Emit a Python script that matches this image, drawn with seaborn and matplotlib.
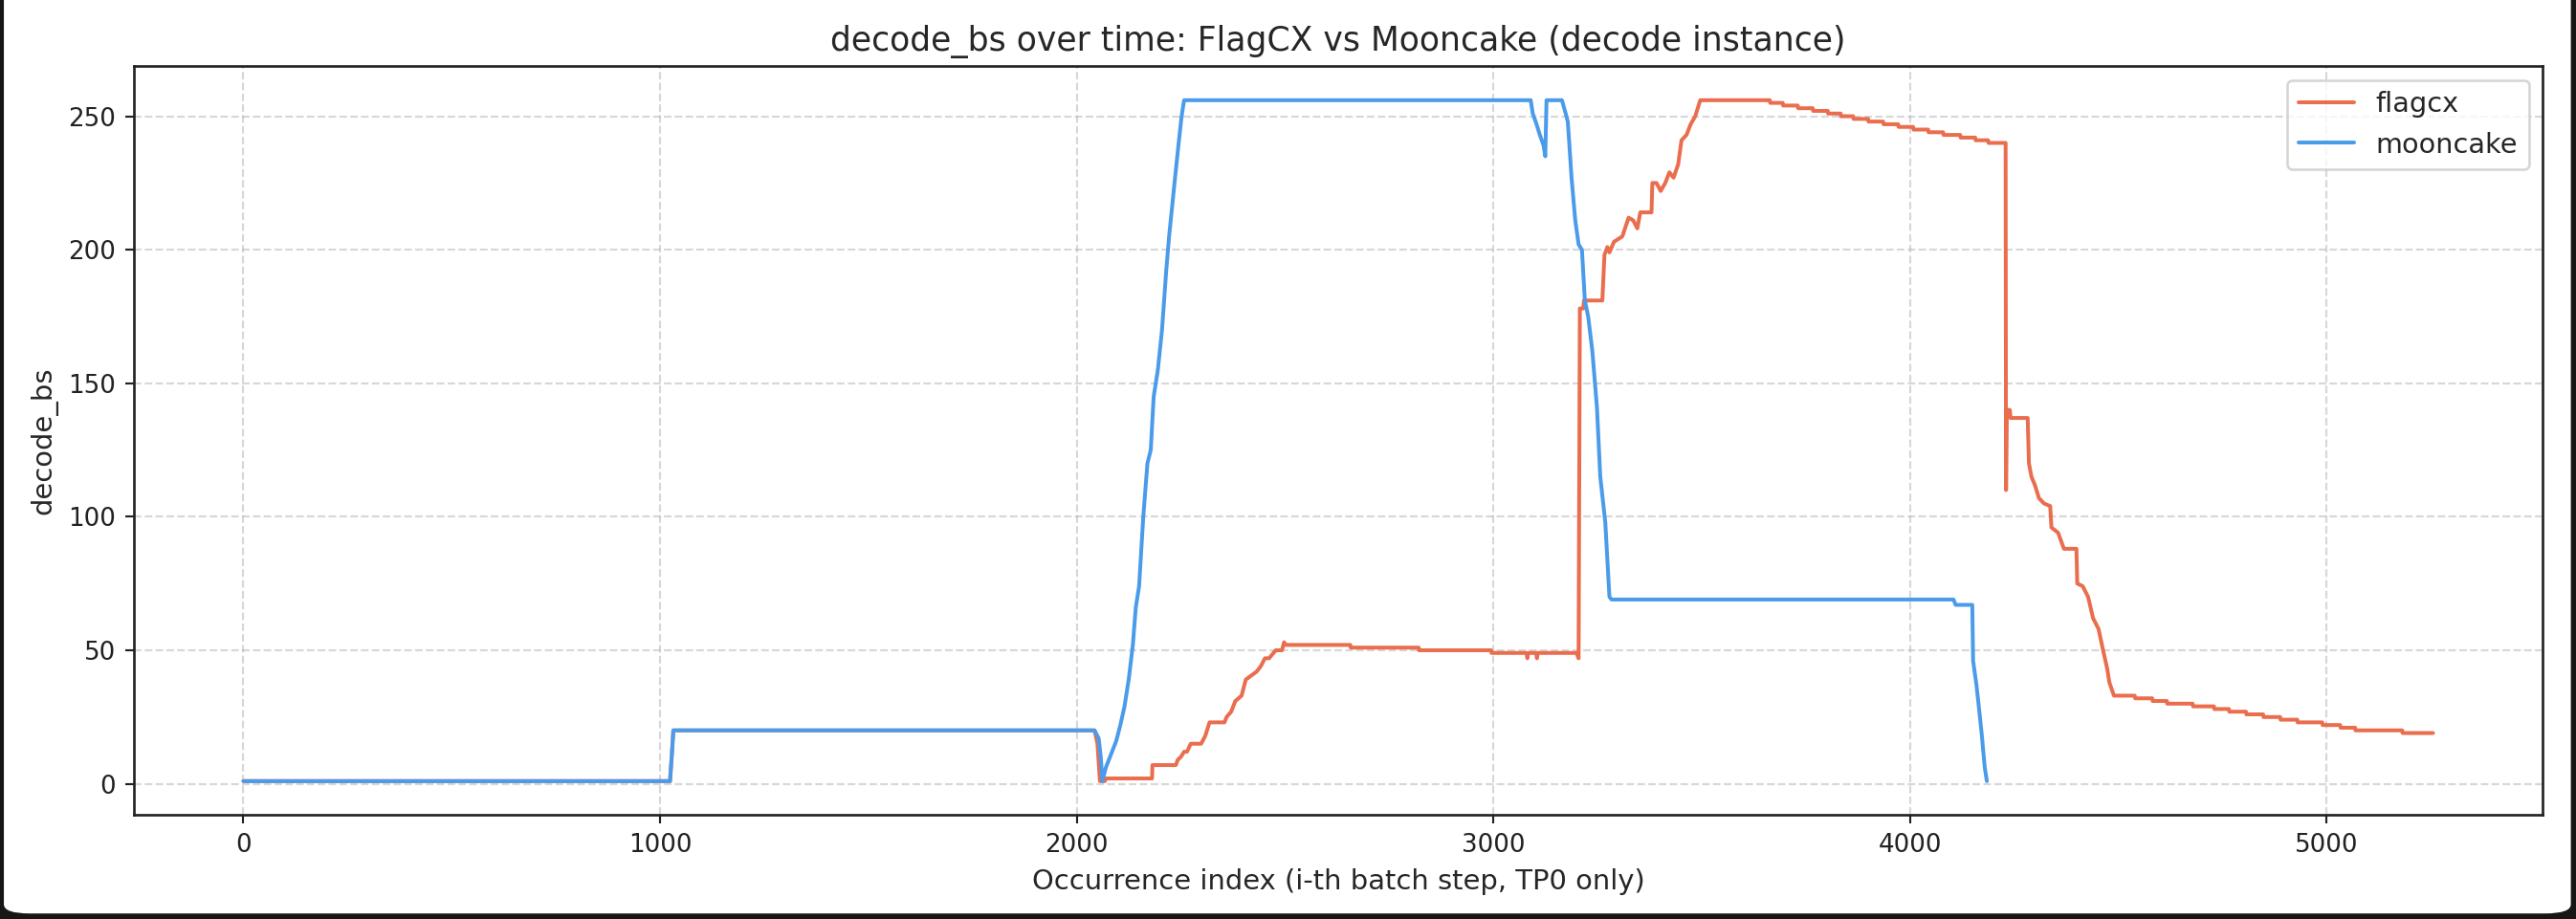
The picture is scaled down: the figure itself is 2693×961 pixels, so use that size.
import pandas as pd
import seaborn as sns
import matplotlib.pyplot as plt
from matplotlib.patches import FancyBboxPatch, Rectangle

# (occurrence index, decode_bs) vertices
flagcx_pts = [
    (0, 1), (1024, 1), (1028, 10), (1032, 20), (2043, 20), (2050, 15), (2056, 1), (2068, 1),
    (2070, 2), (2181, 2), (2182, 7), (2238, 7), (2243, 9), (2250, 10), (2258, 12), (2265, 12),
    (2274, 15), (2299, 15), (2309, 18), (2319, 23), (2355, 23), (2360, 25), (2371, 27),
    (2381, 31), (2396, 33), (2406, 39), (2432, 42), (2442, 44), (2452, 47), (2462, 47),
    (2478, 50), (2493, 50), (2498, 53), (2502, 52), (2657, 52), (2658, 51), (2821, 51),
    (2822, 50), (2995, 50), (2996, 49), (3080, 49), (3082, 47), (3084, 49), (3103, 49),
    (3105, 47), (3107, 49), (3200, 49), (3205, 47), (3208, 178), (3216, 178), (3218, 181),
    (3262, 181), (3267, 198), (3274, 201), (3279, 199), (3290, 203), (3300, 204), (3310, 205),
    (3325, 212), (3336, 211), (3346, 208), (3353, 214), (3380, 214), (3382, 225), (3392, 225),
    (3402, 222), (3413, 225), (3423, 229), (3433, 227), (3444, 232), (3452, 241), (3464, 243),
    (3474, 247), (3485, 250), (3497, 256), (3664, 256), (3665, 255), (3695, 255), (3696, 254),
    (3731, 254), (3732, 253), (3767, 253), (3768, 252), (3803, 252), (3804, 251), (3834, 251),
    (3835, 250), (3864, 250), (3865, 249), (3900, 249), (3901, 248), (3936, 248), (3937, 247),
    (3972, 247), (3973, 246), (4008, 246), (4009, 245), (4044, 245), (4045, 244), (4080, 244),
    (4081, 243), (4121, 243), (4122, 242), (4157, 242), (4158, 241), (4188, 241), (4189, 240),
    (4230, 240), (4231, 110), (4233, 140), (4240, 140), (4242, 137), (4283, 137), (4286, 120),
    (4292, 115), (4300, 112), (4310, 107), (4322, 105), (4337, 104), (4340, 96), (4356, 94),
    (4370, 88), (4400, 88), (4402, 75), (4415, 74), (4428, 70), (4440, 62), (4453, 58),
    (4464, 50), (4474, 43), (4479, 38), (4490, 33), (4540, 33), (4541, 32), (4582, 32),
    (4583, 31), (4617, 31), (4618, 30), (4679, 30), (4680, 29), (4730, 29), (4731, 28),
    (4766, 28), (4767, 27), (4807, 27), (4808, 26), (4848, 26), (4849, 25), (4889, 25),
    (4890, 24), (4930, 24), (4931, 23), (4990, 23), (4991, 22), (5033, 22), (5034, 21),
    (5069, 21), (5070, 20), (5182, 20), (5183, 19), (5256, 19),
]

mooncake_pts = [
    (0, 1), (1024, 1), (1028, 10), (1032, 20), (2043, 20), (2053, 17), (2058, 10), (2062, 1),
    (2070, 6), (2080, 10), (2095, 16), (2105, 22), (2115, 29), (2125, 39), (2135, 52),
    (2142, 66), (2150, 74), (2160, 100), (2170, 120), (2178, 125), (2185, 145), (2195, 155),
    (2205, 170), (2215, 192), (2222, 205), (2235, 225), (2245, 240), (2252, 250), (2258, 256),
    (3090, 256), (3095, 251), (3104, 247), (3112, 243), (3121, 239), (3125, 235), (3128, 256),
    (3165, 256), (3174, 251), (3179, 248), (3183, 239), (3188, 227), (3197, 211), (3205, 202),
    (3213, 200), (3220, 181), (3228, 175), (3238, 162), (3249, 141), (3257, 115), (3269, 98),
    (3279, 70), (3284, 69), (4105, 69), (4110, 67), (4150, 67), (4152, 46), (4160, 37),
    (4167, 27), (4173, 18), (4180, 6), (4185, 1),
]

series_names = ["flagcx", "mooncake"]
series_colors = ["#EA6D4E", "#4A9BEA"]

rows = []
for name, pts in zip(series_names, [flagcx_pts, mooncake_pts]):
    for i, v in pts:
        rows.append({"idx": i, "decode_bs": v, "series": name})
df = pd.DataFrame(rows)

sns.set_style("ticks")
plt.rcParams["font.family"] = ["DejaVu Sans"]

fig, ax = plt.subplots(figsize=(2693 / 192, 961 / 192), dpi=192)
fig.subplots_adjust(left=0.052, right=0.987, top=0.928, bottom=0.113)

# screenshot frame
fig.patch.set_facecolor("white")
fig.patches.append(Rectangle((0, 0), 1, 1, transform=fig.transFigure, color="#161616", zorder=-3))
fig.patches.append(FancyBboxPatch((0.0015, 0.006), 0.9965, 1.2, boxstyle="round,pad=0,rounding_size=0.01",
                                  transform=fig.transFigure, facecolor="white", edgecolor="none", zorder=-2))

sns.lineplot(data=df, x="idx", y="decode_bs", hue="series", palette=series_colors,
             estimator=None, sort=False, linewidth=1.5, ax=ax)

ax.grid(True, linestyle="--", color="#b0b0b0", alpha=0.5)
for s in ax.spines.values():
    s.set_color("#222222")
    s.set_linewidth(1.0)
ax.tick_params(labelsize=9.8, colors="#222222")
ax.set_title("decode_bs over time: FlagCX vs Mooncake (decode instance)", fontsize=13)
ax.set_xlabel("Occurrence index (i-th batch step, TP0 only)", fontsize=10.9)
ax.set_ylabel("decode_bs", fontsize=10.9)
ax.legend(loc="upper right", fontsize=10.8, title=None)

fig.savefig("out.png", dpi=192)
